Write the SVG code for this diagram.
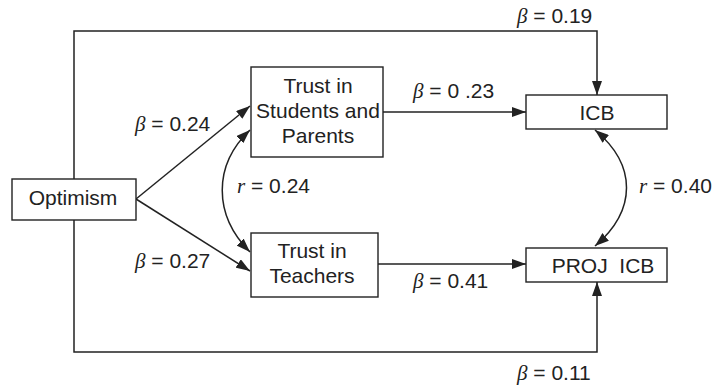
<svg xmlns="http://www.w3.org/2000/svg" width="712" height="386" viewBox="0 0 712 386">
<style>
.box{fill:#fff;stroke:#222;stroke-width:1.4}
.t{font-family:"Liberation Sans",Arial,sans-serif;font-size:21px;fill:#222}
.b{font-family:"Liberation Serif","Times New Roman",serif;font-style:italic}
.e{fill:none;stroke:#222;stroke-width:1.5}
</style>
<defs>
<marker id="ah" viewBox="0 0 14 10" refX="14" refY="5" markerWidth="14" markerHeight="10" markerUnits="userSpaceOnUse" orient="auto-start-reverse">
<path d="M0,0 L14,5 L0,10 Z" fill="#222"/>
</marker>
</defs>
<rect width="712" height="386" fill="#fff"/>
<g id="connectors">
<path class="e" d="M74,179 V31 H597 V95" marker-end="url(#ah)"/>
<path class="e" d="M74,220 V352 H597 V282" marker-end="url(#ah)"/>
<path class="e" d="M136,199 L250,106" marker-end="url(#ah)"/>
<path class="e" d="M136,199 L250,271" marker-end="url(#ah)"/>
<path class="e" d="M383,112 H526" marker-end="url(#ah)"/>
<path class="e" d="M378,264 H526" marker-end="url(#ah)"/>
<path class="e" d="M250,130 C213,165 213,215 250,252" marker-start="url(#ah)" marker-end="url(#ah)"/>
<path class="e" d="M595,130 C637,165 637,210 595,246" marker-start="url(#ah)" marker-end="url(#ah)"/>
</g>
<g id="labels" class="t">
<text x="517" y="23"><tspan class="b">β</tspan> = 0.19</text>
<text x="517" y="380"><tspan class="b">β</tspan> = 0.11</text>
<text x="135" y="131"><tspan class="b">β</tspan> = 0.24</text>
<text x="135" y="268"><tspan class="b">β</tspan> = 0.27</text>
<text x="413" y="98"><tspan class="b">β</tspan> = 0 .23</text>
<text x="413" y="288"><tspan class="b">β</tspan> = 0.41</text>
<text x="237" y="193"><tspan class="b">r</tspan> = 0.24</text>
<text x="639" y="193"><tspan class="b">r</tspan> = 0.40</text>
</g>
<g id="optimism">
<rect class="box" x="12" y="179" width="124" height="41"/>
<text class="t" x="73" y="205" text-anchor="middle">Optimism</text>
</g>
<g id="trust-students-parents">
<rect class="box" x="251" y="67" width="132" height="90"/>
<text class="t" x="318" y="93" text-anchor="middle">Trust in</text>
<text class="t" x="318" y="118" text-anchor="middle">Students and</text>
<text class="t" x="318" y="143" text-anchor="middle">Parents</text>
</g>
<g id="trust-teachers">
<rect class="box" x="251" y="233" width="127" height="64"/>
<text class="t" x="312" y="258" text-anchor="middle">Trust in</text>
<text class="t" x="312" y="283" text-anchor="middle">Teachers</text>
</g>
<g id="icb">
<rect class="box" x="526" y="95" width="141" height="34"/>
<text class="t" x="597" y="120" text-anchor="middle">ICB</text>
</g>
<g id="proj-icb">
<rect class="box" x="526" y="248" width="141" height="34"/>
<text class="t" x="603" y="273" text-anchor="middle" xml:space="preserve">PROJ  ICB</text>
</g>
</svg>
